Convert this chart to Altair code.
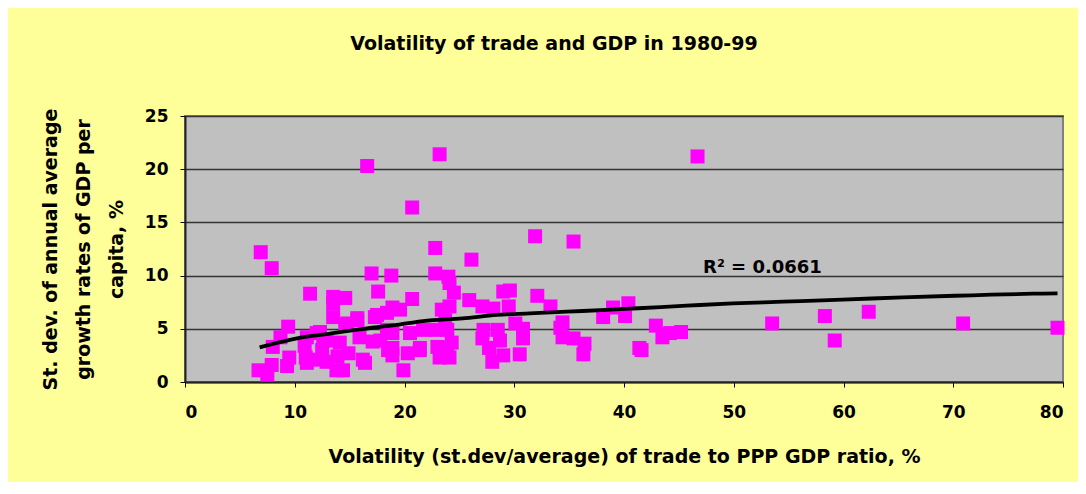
import altair as alt
import pandas as pd

# Scatter points: volatility of trade (x, %) vs st.dev. of GDP per capita growth (y, %)
x_vals = [16.6, 23.2, 46.7, 20.7, 31.9, 35.4, 22.8, 26.1, 6.9, 7.9,
          17.0, 18.8, 22.8, 24.0, 24.1, 17.6, 11.4, 24.5, 29.0, 29.6,
          32.1, 13.5, 14.6, 13.5, 20.7, 25.9,
          18.9, 19.6, 18.4, 23.4, 24.1, 27.1, 28.1, 29.5, 33.3, 39.0,
          40.4, 17.5, 15.7, 13.5, 17.3,
          38.1, 40.1, 58.3, 62.3, 23.7, 34.4, 14.8, 14.6, 9.4, 15.7,
          42.9, 53.5, 70.9, 79.5, 30.1, 30.8, 34.2, 22.8, 21.7, 18.4,
          23.9, 27.2, 28.5, 20.5, 18.9, 12.0, 44.2, 45.2, 12.3,
          8.7, 11.1, 15.9, 34.4, 35.4, 43.5, 30.8, 27.1, 28.7, 12.6,
          17.8, 12.9, 59.2, 17.1, 24.3, 14.1,
          8.0, 10.9, 23.0, 21.4, 18.9, 27.7, 23.9, 36.4, 41.4, 41.6,
          12.5, 18.5, 21.4,
          14.9, 20.3, 30.5, 36.3, 9.5, 11.0, 13.9, 24.1, 23.2, 18.9,
          29.0, 16.2, 11.7, 28.0, 12.9, 16.4, 11.1,
          6.7, 7.5, 7.9, 9.3, 13.8, 14.4, 19.9]
y_vals = [20.3, 21.4, 21.2, 16.4, 13.7, 13.2, 12.6, 11.5, 12.2, 10.7,
          10.2, 10.0, 10.2, 9.9, 9.3, 8.5, 8.3, 8.4, 8.5, 8.6,
          8.1, 8.0, 7.9, 7.4, 7.8, 7.7,
          7.0, 6.8, 6.5, 6.8, 7.1, 7.1, 6.9, 7.1, 7.1, 7.0,
          7.4, 6.3, 6.0, 6.1, 6.1,
          6.1, 6.2, 6.2, 6.6, 5.8, 5.6, 5.5, 5.4, 5.2, 5.8,
          5.3, 5.5, 5.5, 5.1, 5.5, 5.0, 5.1, 4.9, 4.9, 4.9,
          4.9, 4.9, 4.9, 4.6, 4.6, 4.6, 4.6, 4.7, 4.7,
          4.2, 4.2, 4.2, 4.2, 4.1, 4.2, 4.1, 4.1, 3.9, 3.9,
          3.9, 3.9, 3.9, 3.8, 3.7, 3.7,
          3.3, 3.4, 3.3, 3.2, 3.2, 3.2, 3.2, 3.6, 3.2, 3.0,
          3.0, 3.0, 3.0,
          2.7, 2.7, 2.6, 2.6, 2.3, 2.3, 2.4, 2.3, 2.3, 2.5,
          2.5, 2.1, 2.1, 1.9, 1.9, 1.8, 1.8,
          1.1, 0.7, 1.6, 1.5, 1.1, 1.1, 1.1]

# Logarithmic trend line
trend_x = [6.8, 10.2, 12.9, 15.9, 19.3, 21.7, 25.3, 28.4, 31.4, 34.8,
           38.4, 41.3, 45.7, 49.9, 54.5, 59.9, 65.4, 71.7, 77.3, 79.5]
trend_y = [3.26, 4.1, 4.5, 4.95, 5.36, 5.73, 5.98, 6.30, 6.45, 6.61,
           6.77, 6.93, 7.17, 7.39, 7.55, 7.74, 7.96, 8.15, 8.30, 8.33]

x_ticks = [0, 10, 20, 30, 40, 50, 60, 70, 80]
y_ticks = [0, 5, 10, 15, 20, 25]

title_text = ["Volatility of trade and GDP in 1980-99"]
x_title = "Volatility (st.dev/average) of trade to PPP GDP ratio, %"
y_title = ["St. dev. of annual average", "growth rates of GDP per", "capita, %"]
r2_text = ["R\u00b2 = 0.0661"]
r2_x = [47.2]
r2_y = [10.25]

df = pd.DataFrame({"x": x_vals, "y": y_vals})
tdf = pd.DataFrame({"x": trend_x, "y": trend_y})
lab = pd.DataFrame({"x": r2_x, "y": r2_y, "t": r2_text})
ttl = pd.DataFrame({"t": title_text})

FONT = "DejaVu Sans"

xenc = alt.X(
    "x:Q",
    scale=alt.Scale(domain=[0, 80], nice=False),
    axis=alt.Axis(
        values=x_ticks, title=x_title, grid=False,
        labelFont=FONT, labelFontSize=17, labelFontWeight="bold", labelColor="black",
        labelPadding=17, tickSize=5, tickColor="black", domainColor="#222222", domainWidth=2,
        titleFont=FONT, titleFontSize=19, titleFontWeight="bold", titleColor="black",
        titleY=80, titleBaseline="alphabetic",
    ),
)
yenc = alt.Y(
    "y:Q",
    scale=alt.Scale(domain=[0, 25], nice=False),
    axis=alt.Axis(
        values=y_ticks, title=y_title, grid=True, gridColor="#333333", gridWidth=1.5, gridOpacity=1,
        labelFont=FONT, labelFontSize=17, labelFontWeight="bold", labelColor="black",
        labelPadding=12, tickSize=5, tickColor="black", domainColor="#222222", domainWidth=2,
        titleFont=FONT, titleFontSize=19, titleFontWeight="bold", titleColor="black",
        titleAngle=-90, titleX=-135, titleY=133, titleAlign="center", titleBaseline="middle",
        titleLineHeight=33,
    ),
)

points = alt.Chart(df).mark_square(size=196, color="#FF00FF", opacity=1, filled=True).encode(
    x=xenc, y=yenc
)
trend = (
    alt.Chart(tdf)
    .mark_line(color="black", strokeWidth=3.8, interpolate="monotone")
    .encode(x="x:Q", y="y:Q")
)
label = alt.Chart(lab).mark_text(
    font=FONT, fontSize=18, fontWeight="bold", color="black", align="left", baseline="alphabetic"
).encode(x="x:Q", y="y:Q", text="t:N")

title_mark = alt.Chart(ttl).mark_text(
    font=FONT, fontSize=19, fontWeight="bold", color="black", align="center", baseline="alphabetic"
).encode(x=alt.value(369), y=alt.value(-66), text="t:N")

chart = (
    alt.layer(points, trend, label, title_mark)
    .properties(
        width=878,
        height=266,
        background="#FFFF99",
        padding={"left": 177, "top": 108, "right": 15, "bottom": 100},
        autosize=alt.AutoSizeParams(type="none"),
    )
    .configure_view(fill="#C0C0C0", stroke="#808080", strokeWidth=2)
)

chart.save("out.html", embed_options={"renderer": "svg", "actions": False})
